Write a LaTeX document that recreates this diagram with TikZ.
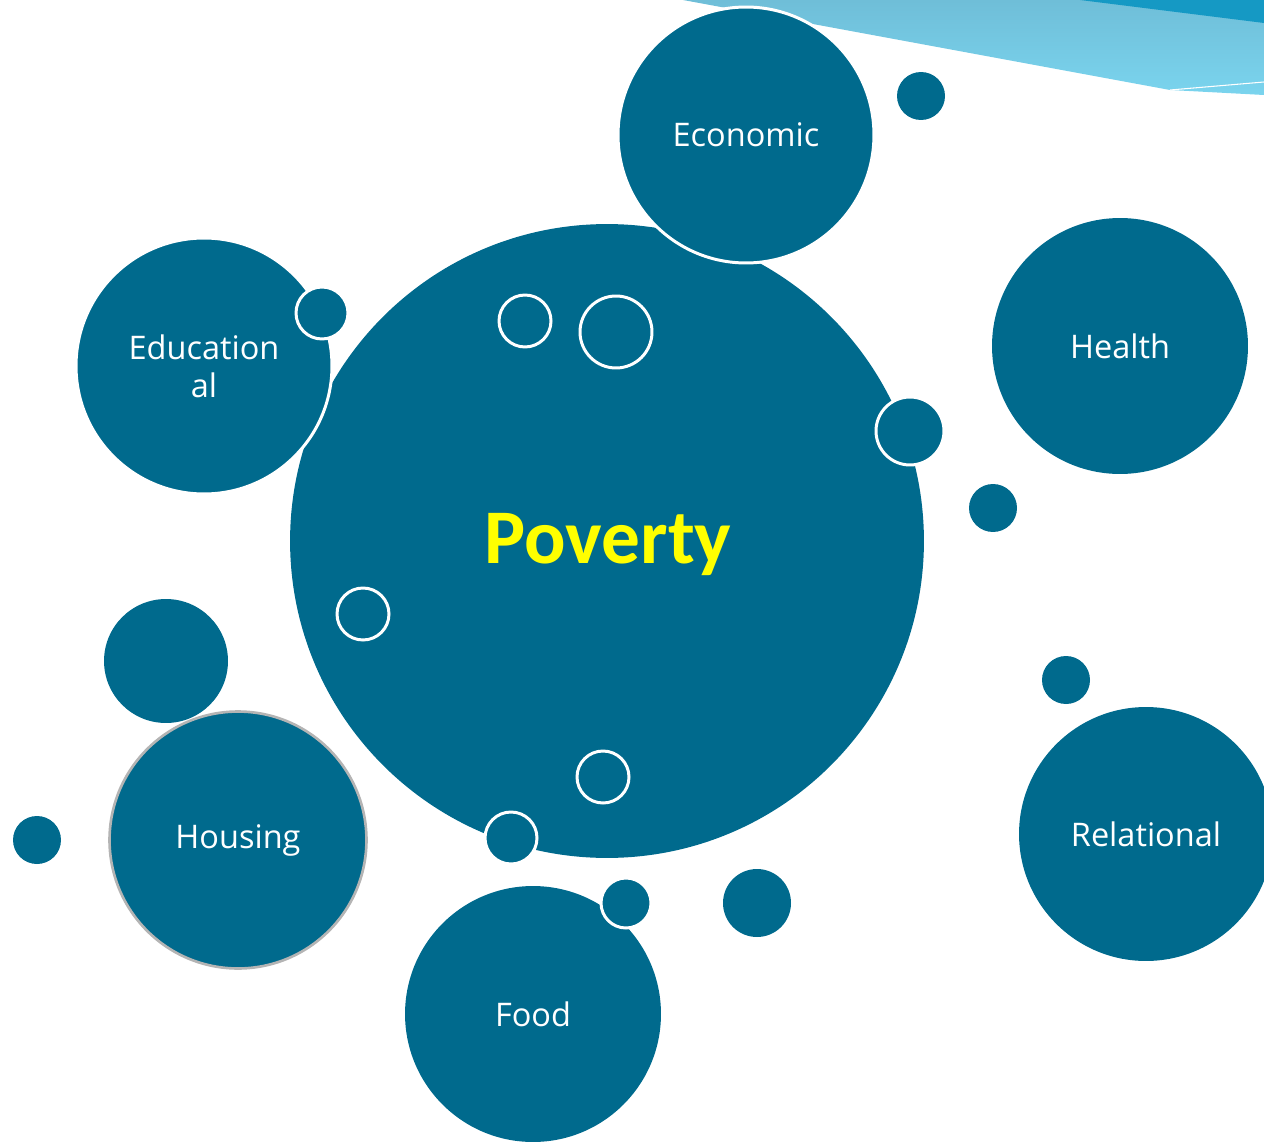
\documentclass[tikz,border=0pt]{standalone}
\usepackage{fontspec}
\setmainfont{Open Sans}
\newfontfamily\povfont{Carlito}
\definecolor{tealc}{RGB}{0,106,141}
\definecolor{bandtop}{RGB}{111,190,216}
\definecolor{bandbot}{RGB}{122,212,238}
\definecolor{banddark}{RGB}{21,153,196}
\definecolor{yellowc}{RGB}{255,255,0}
\tikzset{
  bub/.style={circle, fill=tealc, inner sep=0pt, text=white, align=center,
    font=\fontsize{18.5}{21.6}\selectfont},
  wbub/.style={bub, draw=white, line width=1.7pt},
  ringc/.style={circle, draw=white, line width=1.7pt, inner sep=0pt},
}
\begin{document}
\begin{tikzpicture}[x=0.02cm,y=-0.02cm]
\useasboundingbox (0,0) rectangle (1264,1142);
\clip (0,0) rectangle (1264,1142);
% decorative band
\shade[top color=bandtop, bottom color=bandbot] (683,0) -- (1264,0) -- (1264,95) -- (1170,90) -- cycle;
\fill[banddark] (1080,0) -- (1264,0) -- (1264,23) -- cycle;
\draw[white, line width=0.6pt] (1170,90) -- (1264,82);
% central circle
\node[bub, minimum size=12.68cm] (pov) at (607,541) {};
\node[text=yellowc, font=\povfont\bfseries\fontsize{44}{52}\selectfont] (povt) at (608,545) {Poverty};
% plain small dots
\node[bub, minimum size=0.96cm] (d1) at (921,96) {};
\node[bub, minimum size=0.96cm] (d2) at (993,508) {};
\node[bub, minimum size=0.96cm] (d3) at (1066,680) {};
\node[bub, minimum size=0.96cm] (d4) at (37,840) {};
\node[bub, minimum size=1.36cm] (d5) at (757,903) {};
\node[bub, minimum size=2.48cm] (d6) at (166,661) {};
% outer circles
\node[wbub, minimum size=5.12cm] (edu) at (204,366) {Education\\al};
\node[wbub, minimum size=1.04cm] (s1) at (322,313) {};
\node[wbub, minimum size=5.12cm] (eco) at (746,135) {Economic};
\node[bub, minimum size=5.12cm] (hea) at (1120,346) {Health};
\node[bub, minimum size=5.08cm] (rel) at (1146,834) {Relational};
\node[bub, draw={rgb,255:red,180;green,180;blue,180}, line width=1.5pt, minimum size=5.14cm] (hou) at (238,840) {Housing};
\node[bub, minimum size=5.12cm] (foo) at (533,1014) {Food};
\node[wbub, minimum size=1.0cm] (s2) at (626,903) {};
\node[wbub, minimum size=1.04cm] (s3) at (511,838) {};
\node[wbub, minimum size=1.36cm] (s4) at (910,431) {};
% rings inside central circle
\node[ringc, minimum size=1.04cm] (r1) at (525,321) {};
\node[ringc, minimum size=1.44cm] (r2) at (616,332) {};
\node[ringc, minimum size=1.04cm] (r3) at (363,614) {};
\node[ringc, minimum size=1.04cm] (r4) at (603,777) {};
\end{tikzpicture}
\end{document}
